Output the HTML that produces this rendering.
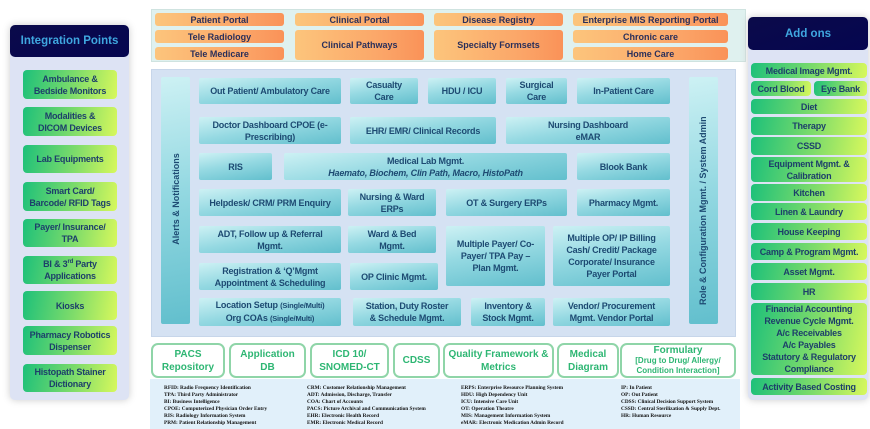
<!DOCTYPE html>
<html><head><meta charset="utf-8"><style>
*{margin:0;padding:0;box-sizing:border-box}
body{width:870px;height:429px;background:#fff;position:relative;overflow:hidden;font-family:"Liberation Sans",sans-serif;font-weight:bold;}
.a{position:absolute;display:flex;align-items:center;justify-content:center;text-align:center;}
.t{background:linear-gradient(170deg,#cdf1f4 0%,#95d9e2 45%,#62bfcd 100%);color:#1d4a72;font-size:9px;line-height:12px;border-radius:2px;letter-spacing:-0.2px}
.g{background:linear-gradient(100deg,#1dc07a 0%,#7fdc6a 55%,#d8f85c 100%);color:#1d3f6a;font-size:9px;line-height:12px;border-radius:4px;letter-spacing:-0.2px}
.o{background:linear-gradient(90deg,#fcc57c 0%,#fba467 70%,#fa9258 100%);color:#2a2f5a;font-size:9px;border-radius:3px}
.w{background:#fff;border:2px solid #8fd5a8;border-radius:7px;color:#2eb673;font-size:10px;line-height:13px}
.hd{background:linear-gradient(160deg,#0b0a4a,#050650);color:#3fa7e0;font-size:11.5px;border-radius:5px}
.lg{position:absolute;font-family:"Liberation Serif",serif;font-size:5.3px;line-height:6.9px;color:#111;font-weight:bold;white-space:nowrap}
.v{position:absolute;color:#1d4a72;font-size:9px;white-space:nowrap;transform:rotate(-90deg);}
</style></head><body>
<div class="a" style="left:10px;top:25px;width:119px;height:375px;background:#dde3f4;box-shadow:0 0 8px #ccc;border-radius:5px"></div>
<div class="a hd" style="left:10px;top:25px;width:119px;height:32px">Integration Points</div>
<div class="a g" style="left:23px;top:70px;width:94px;height:29px"><span>Ambulance &amp;<br>Bedside Monitors</span></div>
<div class="a g" style="left:23px;top:107px;width:94px;height:29px"><span>Modalities &amp;<br>DICOM Devices</span></div>
<div class="a g" style="left:23px;top:145px;width:94px;height:28px"><span>Lab Equipments</span></div>
<div class="a g" style="left:23px;top:182px;width:94px;height:29px"><span>Smart Card/<br>Barcode/ RFID Tags</span></div>
<div class="a g" style="left:23px;top:219px;width:94px;height:28px"><span>Payer/ Insurance/<br>TPA</span></div>
<div class="a g" style="left:23px;top:256px;width:94px;height:28px"><span>BI &amp; 3<sup style="font-size:6px;line-height:0">rd</sup> Party<br>Applications</span></div>
<div class="a g" style="left:23px;top:291px;width:94px;height:29px"><span>Kiosks</span></div>
<div class="a g" style="left:23px;top:326px;width:94px;height:29px"><span>Pharmacy Robotics<br>Dispenser</span></div>
<div class="a g" style="left:23px;top:364px;width:94px;height:28px"><span>Histopath Stainer<br>Dictionary</span></div>

<div class="a" style="left:151px;top:9px;width:595px;height:53px;background:#dff1ef;border:1px solid #cfe3e0"></div>
<div class="a o" style="left:155px;top:13px;width:129px;height:13px">Patient Portal</div>
<div class="a o" style="left:155px;top:30px;width:129px;height:13px">Tele Radiology</div>
<div class="a o" style="left:155px;top:47px;width:129px;height:13px">Tele Medicare</div>
<div class="a o" style="left:295px;top:13px;width:129px;height:13px">Clinical Portal</div>
<div class="a o" style="left:295px;top:30px;width:129px;height:30px">Clinical Pathways</div>
<div class="a o" style="left:434px;top:13px;width:129px;height:13px">Disease Registry</div>
<div class="a o" style="left:434px;top:30px;width:129px;height:30px">Specialty Formsets</div>
<div class="a o" style="left:573px;top:13px;width:155px;height:13px">Enterprise MIS Reporting Portal</div>
<div class="a o" style="left:573px;top:30px;width:155px;height:13px">Chronic care</div>
<div class="a o" style="left:573px;top:47px;width:155px;height:13px">Home Care</div>

<div class="a" style="left:151px;top:69px;width:585px;height:268px;background:#d5e2f3;border:1px solid #c7d6ea"></div>
<div class="a t" style="left:161px;top:77px;width:29px;height:247px"></div>
<div class="v" style="left:116px;top:194px;width:120px;text-align:center">Alerts &amp; Notifications</div>
<div class="a t" style="left:689px;top:77px;width:29px;height:247px"></div>
<div class="v" style="left:613px;top:210px;width:180px;text-align:center">Role &amp; Configuration Mgmt. / System Admin</div>

<div class="a t" style="left:199px;top:78px;width:142px;height:26px"><span>Out Patient/ Ambulatory Care</span></div>
<div class="a t" style="left:350px;top:78px;width:68px;height:26px"><span>Casualty<br>Care</span></div>
<div class="a t" style="left:428px;top:78px;width:68px;height:26px"><span>HDU / ICU</span></div>
<div class="a t" style="left:506px;top:78px;width:61px;height:26px"><span>Surgical<br>Care</span></div>
<div class="a t" style="left:577px;top:78px;width:93px;height:26px"><span>In-Patient Care</span></div>

<div class="a t" style="left:199px;top:117px;width:142px;height:27px"><span>Doctor Dashboard CPOE (e-<br>Prescribing)</span></div>
<div class="a t" style="left:350px;top:117px;width:146px;height:27px"><span>EHR/ EMR/ Clinical Records</span></div>
<div class="a t" style="left:506px;top:117px;width:164px;height:27px"><span>Nursing Dashboard<br>eMAR</span></div>

<div class="a t" style="left:199px;top:153px;width:73px;height:27px"><span>RIS</span></div>
<div class="a t" style="left:284px;top:153px;width:283px;height:27px"><span>Medical Lab Mgmt.<br><i>Haemato, Biochem, Clin Path, Macro, HistoPath</i></span></div>
<div class="a t" style="left:577px;top:153px;width:93px;height:27px"><span>Blook Bank</span></div>

<div class="a t" style="left:199px;top:189px;width:142px;height:27px"><span>Helpdesk/ CRM/ PRM Enquiry</span></div>
<div class="a t" style="left:348px;top:189px;width:88px;height:27px"><span>Nursing &amp; Ward<br>ERPs</span></div>
<div class="a t" style="left:446px;top:189px;width:121px;height:27px"><span>OT &amp; Surgery ERPs</span></div>
<div class="a t" style="left:577px;top:189px;width:93px;height:27px"><span>Pharmacy Mgmt.</span></div>

<div class="a t" style="left:199px;top:226px;width:142px;height:27px"><span>ADT, Follow up &amp; Referral<br>Mgmt.</span></div>
<div class="a t" style="left:348px;top:226px;width:88px;height:27px"><span>Ward &amp; Bed<br>Mgmt.</span></div>
<div class="a t" style="left:446px;top:226px;width:99px;height:60px"><span>Multiple Payer/ Co-<br>Payer/ TPA Pay –<br>Plan Mgmt.</span></div>
<div class="a t" style="left:553px;top:226px;width:117px;height:60px"><span>Multiple OP/ IP Billing<br>Cash/ Credit/ Package<br>Corporate/ Insurance<br>Payer Portal</span></div>

<div class="a t" style="left:199px;top:263px;width:142px;height:27px"><span>Registration &amp; ‘Q’Mgmt<br>Appointment &amp; Scheduling</span></div>
<div class="a t" style="left:350px;top:263px;width:88px;height:27px"><span>OP Clinic Mgmt.</span></div>

<div class="a t" style="left:199px;top:298px;width:142px;height:28px"><span>Location Setup <span style="font-size:7.5px">(Single/Multi)</span><br>Org COAs <span style="font-size:7.5px">(Single/Multi)</span></span></div>
<div class="a t" style="left:353px;top:298px;width:108px;height:28px"><span>Station, Duty Roster<br>&amp; Schedule Mgmt.</span></div>
<div class="a t" style="left:471px;top:298px;width:74px;height:28px"><span>Inventory &amp;<br>Stock Mgmt.</span></div>
<div class="a t" style="left:553px;top:298px;width:117px;height:28px"><span>Vendor/ Procurement<br>Mgmt. Vendor Portal</span></div>

<div class="a w" style="left:151px;top:343px;width:74px;height:35px"><span>PACS<br>Repository</span></div>
<div class="a w" style="left:229px;top:343px;width:77px;height:35px"><span>Application<br>DB</span></div>
<div class="a w" style="left:310px;top:343px;width:79px;height:35px"><span>ICD 10/<br>SNOMED-CT</span></div>
<div class="a w" style="left:393px;top:343px;width:47px;height:35px"><span>CDSS</span></div>
<div class="a w" style="left:443px;top:343px;width:111px;height:35px"><span>Quality Framework &amp;<br>Metrics</span></div>
<div class="a w" style="left:557px;top:343px;width:62px;height:35px"><span>Medical<br>Diagram</span></div>
<div class="a w" style="left:620px;top:343px;width:116px;height:35px;line-height:10px;font-size:8px"><span><span style="font-size:10px">Formulary</span><br>[Drug to Drug/ Allergy/<br>Condition Interaction]</span></div>

<div class="a" style="left:150px;top:379px;width:590px;height:50px;background:#e1f0fa"></div>
<div class="lg" style="left:164px;top:385px">RFID: Radio Frequency Identification<br>TPA: Third Party Administrator<br>BI: Business Intelligence<br>CPOE: Computerized Physician Order Entry<br>RIS: Radiology Information System<br>PRM: Patient Relationship Management</div>
<div class="lg" style="left:307px;top:385px">CRM: Customer Relationship Management<br>ADT: Admission, Discharge, Transfer<br>COA: Chart of Accounts<br>PACS: Picture Archival and Communication System<br>EHR: Electronic Health Record<br>EMR: Electronic Medical Record</div>
<div class="lg" style="left:461px;top:385px">ERPS: Enterprise Resource Planning System<br>HDU: High Dependency Unit<br>ICU: Intensive Care Unit<br>OT: Operation Theatre<br>MIS: Management Information System<br>eMAR: Electronic Medication Admin Record</div>
<div class="lg" style="left:621px;top:385px">IP: In Patient<br>OP: Out Patient<br>CDSS: Clinical Decision Support System<br>CSSD: Central Sterilization &amp; Supply Dept.<br>HR: Human Resource</div>

<div class="a" style="left:748px;top:17px;width:120px;height:383px;background:#dde3f4;box-shadow:0 0 8px #ccc;border-radius:5px"></div>
<div class="a hd" style="left:748px;top:17px;width:120px;height:33px">Add ons</div>
<div class="a g" style="left:751px;top:63px;width:116px;height:15px">Medical Image Mgmt.</div>
<div class="a g" style="left:751px;top:81px;width:60px;height:15px">Cord Blood</div>
<div class="a g" style="left:814px;top:81px;width:53px;height:15px">Eye Bank</div>
<div class="a g" style="left:751px;top:99px;width:116px;height:15px">Diet</div>
<div class="a g" style="left:751px;top:117px;width:116px;height:18px">Therapy</div>
<div class="a g" style="left:751px;top:137px;width:116px;height:18px">CSSD</div>
<div class="a g" style="left:751px;top:157px;width:116px;height:25px"><span>Equipment Mgmt. &amp;<br>Calibration</span></div>
<div class="a g" style="left:751px;top:184px;width:116px;height:17px">Kitchen</div>
<div class="a g" style="left:751px;top:203px;width:116px;height:17px">Linen &amp; Laundry</div>
<div class="a g" style="left:751px;top:223px;width:116px;height:17px">House Keeping</div>
<div class="a g" style="left:751px;top:243px;width:116px;height:17px">Camp &amp; Program Mgmt.</div>
<div class="a g" style="left:751px;top:263px;width:116px;height:17px">Asset Mgmt.</div>
<div class="a g" style="left:751px;top:283px;width:116px;height:17px">HR</div>
<div class="a g" style="left:751px;top:303px;width:116px;height:72px"><span>Financial Accounting<br>Revenue Cycle Mgmt.<br>A/c Receivables<br>A/c Payables<br>Statutory &amp; Regulatory<br>Compliance</span></div>
<div class="a g" style="left:751px;top:378px;width:116px;height:17px">Activity Based Costing</div>
</body></html>
